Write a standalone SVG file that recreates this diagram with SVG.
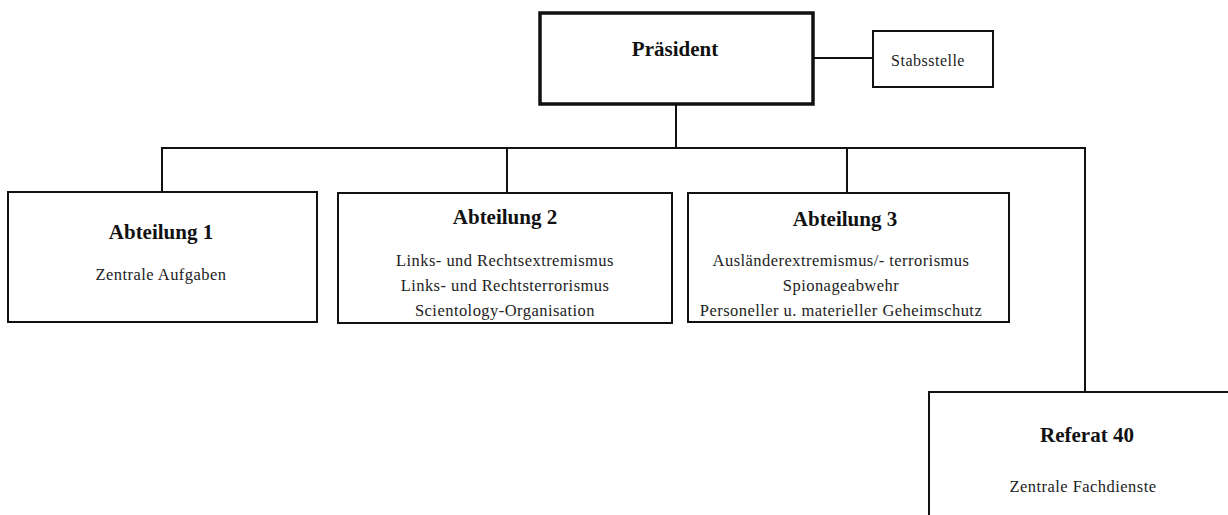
<svg xmlns="http://www.w3.org/2000/svg" width="1228" height="515" viewBox="0 0 1228 515">
<style>
.box{fill:#fff;stroke:#111;stroke-width:2}
.pbox{fill:#fff;stroke:#111;stroke-width:3.5}
.t{font-family:"Liberation Serif","Times New Roman",serif;font-weight:bold;font-size:21px;fill:#111;text-anchor:middle}
.b{font-family:"Liberation Serif","Times New Roman",serif;font-size:16.5px;fill:#222;text-anchor:middle;letter-spacing:0.45px}
.s{font-family:"Liberation Serif","Times New Roman",serif;font-size:16px;fill:#222;text-anchor:middle;letter-spacing:0.5px}
.c{fill:none;stroke:#111;stroke-width:2}
</style>
<rect width="1228" height="515" fill="#fff"/>
<g id="connectors">
<line class="c" x1="813" y1="58" x2="873" y2="58"/>
<line class="c" x1="676" y1="104" x2="676" y2="148"/>
<polyline class="c" points="162,192 162,148 1085,148 1085,392"/>
<line class="c" x1="507" y1="148" x2="507" y2="193"/>
<line class="c" x1="847" y1="148" x2="847" y2="193"/>
</g>
<g id="praesident">
<rect class="pbox" x="540" y="13" width="273" height="91"/>
<text class="t" x="675" y="56">Präsident</text>
</g>
<g id="stabsstelle">
<rect class="box" x="873" y="31" width="120" height="56"/>
<text class="s" x="928" y="66">Stabsstelle</text>
</g>
<g id="abteilung1">
<rect class="box" x="8" y="192" width="309" height="130"/>
<text class="t" x="161" y="239">Abteilung 1</text>
<text class="b" x="161" y="280">Zentrale Aufgaben</text>
</g>
<g id="abteilung2">
<rect class="box" x="338" y="193" width="334" height="130"/>
<text class="t" x="505" y="224">Abteilung 2</text>
<text class="b" x="505" y="266">Links- und Rechtsextremismus</text>
<text class="b" x="505" y="291">Links- und Rechtsterrorismus</text>
<text class="b" x="505" y="316">Scientology-Organisation</text>
</g>
<g id="abteilung3">
<rect class="box" x="688" y="193" width="321" height="129"/>
<text class="t" x="845" y="226">Abteilung 3</text>
<text class="b" x="841" y="266">Ausländerextremismus/- terrorismus</text>
<text class="b" x="841" y="291">Spionageabwehr</text>
<text class="b" x="841" y="316">Personeller u. materieller Geheimschutz</text>
</g>
<g id="referat40">
<rect class="box" x="929" y="392" width="320" height="140"/>
<text class="t" x="1087" y="442">Referat 40</text>
<text class="b" x="1083" y="492">Zentrale Fachdienste</text>
</g>
</svg>
